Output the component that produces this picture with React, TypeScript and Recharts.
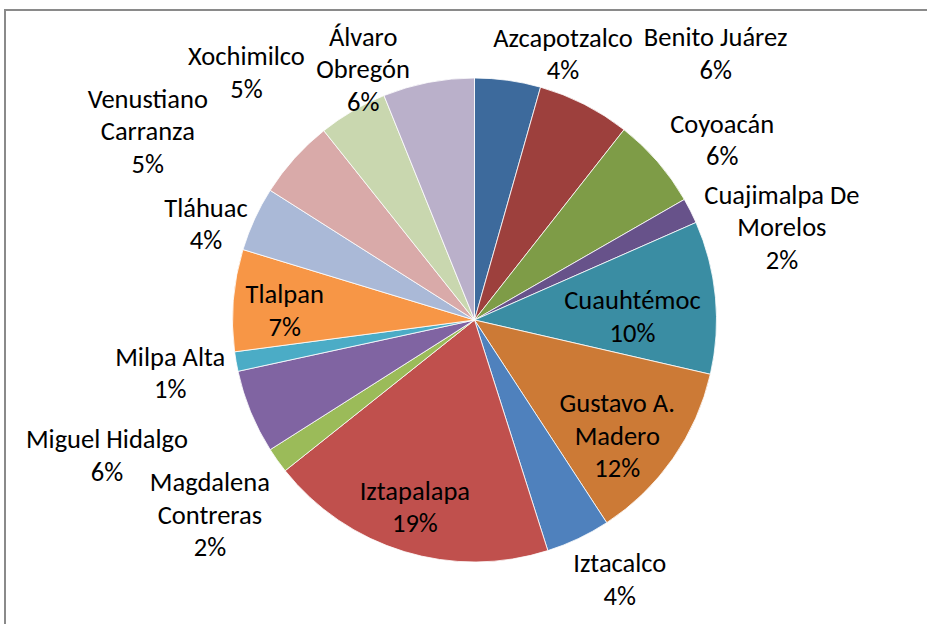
import { PieChart, Pie, Cell } from "recharts";

const boroughs = [
  "Azcapotzalco",
  "Benito Juárez",
  "Coyoacán",
  "Cuajimalpa De Morelos",
  "Cuauhtémoc",
  "Gustavo A. Madero",
  "Iztacalco",
  "Iztapalapa",
  "Magdalena Contreras",
  "Miguel Hidalgo",
  "Milpa Alta",
  "Tlalpan",
  "Tláhuac",
  "Venustiano Carranza",
  "Xochimilco",
  "Álvaro Obregón",
];

const shares = [4.4, 6.2, 6.1, 1.7, 10.2, 12.2, 4.3, 19.2, 1.7, 5.6, 1.3, 6.8, 4.3, 5.3, 4.6, 6.1];

// how the long names wrap in the labels
const wrapped: Record<string, string[]> = {
  "Cuajimalpa De Morelos": ["Cuajimalpa De", "Morelos"],
  "Gustavo A. Madero": ["Gustavo A.", "Madero"],
  "Magdalena Contreras": ["Magdalena", "Contreras"],
  "Venustiano Carranza": ["Venustiano", "Carranza"],
  "Álvaro Obregón": ["Álvaro", "Obregón"],
};

const colors = [
  "#3D6A9C", "#9D403D", "#7E9C47", "#67528A", "#3A8DA3", "#CC7A36",
  "#4F81BD", "#C0504D", "#9BBB59", "#8064A2", "#4BACC6", "#F79646",
  "#AAB9D7", "#D9AAA9", "#C9D7AF", "#BAB0CA",
];

// label placement: distance from centre (px) and angle shift from the slice middle
const labelRadius = [280, 359, 306, 321, 158, 184, 298, 197, 329, 392, 309, 190, 285, 377, 336, 274];
const labelShift = [-10.5, -15.2, -4.9, -10.1, -4.3, -4.2, 3.8, -0.7, 1.0, -2.0, 0.1, 1.9, 5.1, 12.0, 12.5, 13.0];

const data = boroughs.map((name, i) => ({ name, value: shares[i] }));

const RAD = Math.PI / 180;
const FONT = 26.5;
const LINE = 32.5;

const renderLabel = (props: any) => {
  const { cx, cy, midAngle, index, percent, name } = props;
  const angle = midAngle + labelShift[index];
  const r = labelRadius[index];
  const x = cx + r * Math.cos(-angle * RAD);
  const y = cy + r * Math.sin(-angle * RAD);
  const lines = [...(wrapped[name] || [name]), `${Math.round(percent * 100)}%`];
  const top = y - ((lines.length - 1) * LINE) / 2 + FONT * 0.32;
  return (
    <text
      key={`l-${index}`}
      textAnchor="middle"
      fill="#000"
      fontSize={FONT}
      fontFamily="Carlito, 'Open Sans', sans-serif"
    >
      {lines.map((t, j) => (
        <tspan key={j} x={x} y={top + j * LINE}>
          {t}
        </tspan>
      ))}
    </text>
  );
};

export default function App() {
  return (
    <div
      style={{
        position: "absolute",
        left: 0,
        top: 0,
        width: 927,
        height: 624,
        overflow: "hidden",
        background: "#fff",
      }}
    >
      <div
        style={{
          position: "absolute",
          left: 4,
          top: 9,
          width: 1000,
          height: 700,
          border: "2px solid #8a8a8a",
        }}
      />
      <div style={{ position: "absolute", left: 0, top: 0 }}>
        <PieChart width={927} height={624} margin={{ top: 0, right: 0, bottom: 0, left: 0 }}>
          <Pie
            data={data}
            dataKey="value"
            nameKey="name"
            cx={474.5}
            cy={320}
            outerRadius={242}
            startAngle={90}
            endAngle={-270}
            stroke="#fff"
            strokeWidth={0.8}
            labelLine={false}
            label={renderLabel}
            isAnimationActive={false}
          >
            {data.map((d, i) => (
              <Cell key={d.name} fill={colors[i]} />
            ))}
          </Pie>
        </PieChart>
      </div>
    </div>
  );
}
